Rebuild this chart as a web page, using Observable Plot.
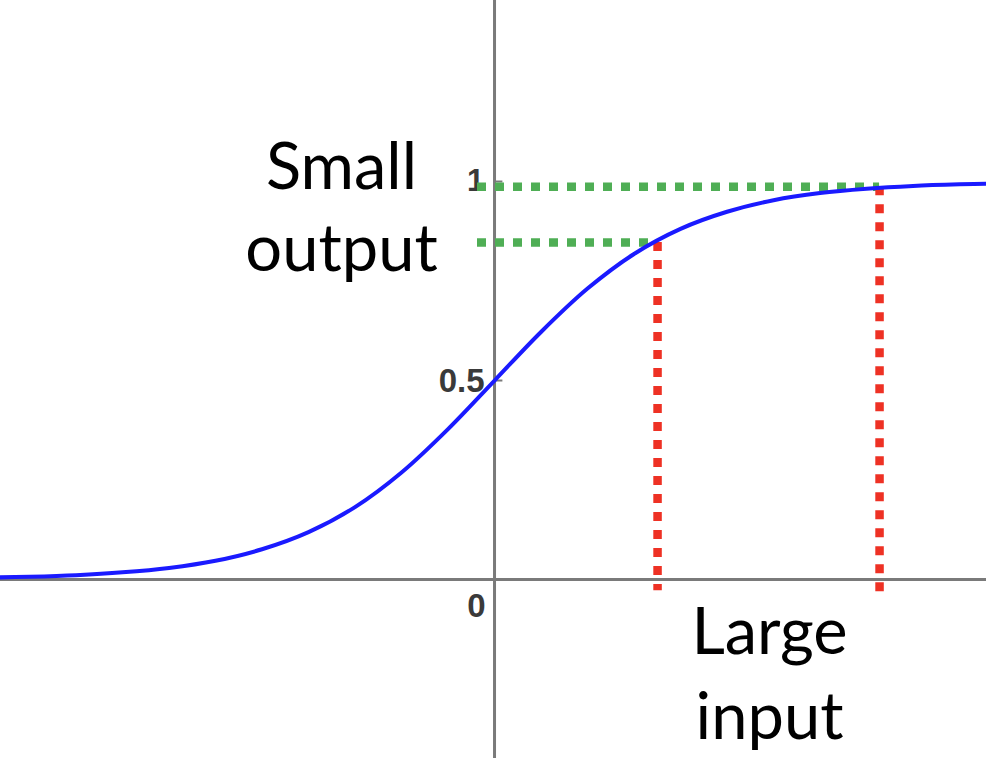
<!DOCTYPE html>
<html>
<head>
<meta charset="utf-8">
<script src="https://cdn.jsdelivr.net/npm/d3@7"></script>
<script src="https://cdn.jsdelivr.net/npm/@observablehq/plot@0.6"></script>
<style>
  html, body { margin: 0; padding: 0; background: #fff; }
  #chart svg { display: block; }
</style>
</head>
<body>
<div id="chart"></div>
<script>
// Curve samples (x in input units, y = output)
const curveX = [-5.4, -5, -4.5, -4, -3.5, -3, -2.5, -2, -1.5, -1, -0.5, 0, 0.5, 1, 1.5, 2, 2.5, 3, 3.5, 4, 4.5, 5, 5.4];
const curveY = [0.005, 0.007, 0.011, 0.018, 0.029, 0.047, 0.076, 0.119, 0.182, 0.269, 0.378, 0.5, 0.622, 0.731, 0.818, 0.881, 0.924, 0.953, 0.971, 0.982, 0.989, 0.993, 0.995];

// Tick labels on the vertical axis
const tickValues = [0.5, 1];
const tickLabels = ["0.5", "1"];
const originLabel = "0";

// Guide lines: output levels (green) and input positions (red)
const guideOutputs = [0.847, 0.987];
const guideInputs = [1.753, 4.14];
const guideStartX = -0.183;
const guideBottoms = [-0.028, -0.04];

// Annotation texts
const annoText = ["Small", "output", "Large", "input"];
const annoX = [-1.645, -1.645, 2.957, 2.957];
const annoY = [0.982, 0.776, -0.186, -0.3995];

const curve = curveX.map((x, i) => ({x, y: curveY[i]}));
const greens = guideOutputs.map((y, i) => ({y, x1: guideStartX, x2: guideInputs[i]}));
const reds = guideInputs.map((x, i) => ({x, y1: guideOutputs[i], y2: guideBottoms[i]}));
const ticks = tickValues.map((v, i) => ({v, label: tickLabels[i]}));
const annos = annoText.map((t, i) => ({t, x: annoX[i], y: annoY[i]}));

const axisColor = "#7a7a7a";
const labelFont = "Liberation Sans, Arial, sans-serif";

const chart = Plot.plot({
  width: 986,
  height: 758,
  margin: 0,
  x: {domain: [-5.312, 5.290], axis: null},
  y: {domain: [-0.4497, 1.4548], axis: null},
  style: {background: "#fff"},
  marks: [
    Plot.ruleX([0], {stroke: axisColor, strokeWidth: 3}),
    Plot.ruleY([0], {stroke: axisColor, strokeWidth: 3}),
    Plot.ruleY(ticks, {y: "v", x1: 0, x2: 0.09, stroke: axisColor, strokeWidth: 2}),
    Plot.text(ticks.filter(d => d.v === 0.5), {x: 0, y: "v", text: "label", textAnchor: "end", dx: -10, dy: 1,
      fontSize: 33, fontWeight: "bold", fill: "#3a3a3a", fontFamily: labelFont}),
    Plot.text(ticks.filter(d => d.v === 1), {x: 0, y: "v", text: "label", textAnchor: "middle", dx: -19, dy: 0,
      fontSize: 31, fontWeight: "bold", fill: "#3a3a3a", fontFamily: labelFont}),
    Plot.text([originLabel], {x: 0, y: 0, text: d => d, textAnchor: "middle", dx: -18, dy: 27,
      fontSize: 33, fontWeight: "bold", fill: "#3a3a3a", fontFamily: labelFont}),
    Plot.ruleY(greens, {y: "y", x1: "x1", x2: "x2", stroke: "#4fae55", strokeWidth: 8.5, strokeDasharray: "9,9"}),
    Plot.ruleX(reds, {x: "x", y1: "y1", y2: "y2", stroke: "#ee3124", strokeWidth: 8.5, strokeDasharray: "9,9"}),
    Plot.line(curve, {x: "x", y: "y", stroke: "#1a1aff", strokeWidth: 4, curve: "catmull-rom", clip: true}),
    Plot.text(annos, {x: "x", y: "y", text: "t", textAnchor: "middle", lineAnchor: "bottom",
      fontSize: 65, fill: "#000", fontFamily: "Lato, Open Sans, sans-serif"})
  ]
});
document.getElementById("chart").appendChild(chart);
</script>
</body>
</html>
